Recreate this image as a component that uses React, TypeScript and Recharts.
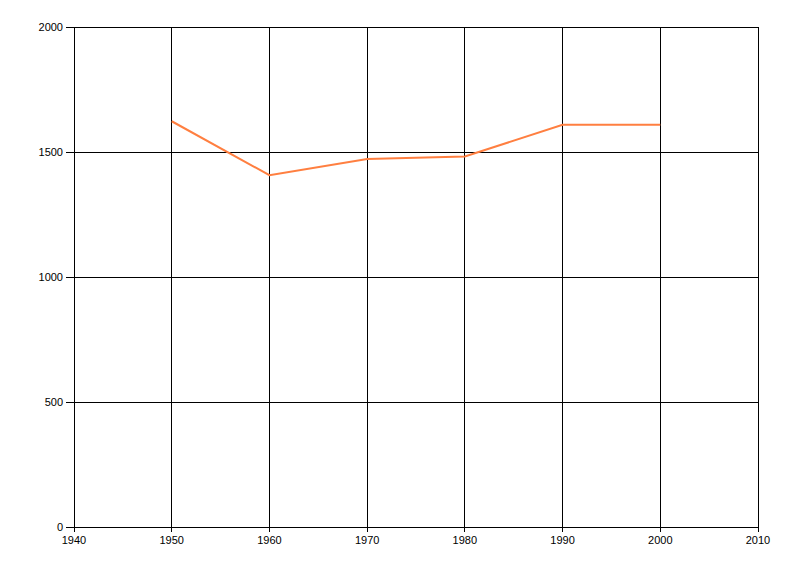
import React from "react";
import { LineChart, Line, XAxis, YAxis, CartesianGrid } from "recharts";

const years = [1950, 1960, 1970, 1980, 1990, 2000];
const values = [1623, 1407, 1472, 1482, 1609, 1609];
const xTicks = [1940, 1950, 1960, 1970, 1980, 1990, 2000, 2010];
const yTicks = [0, 500, 1000, 1500, 2000];

const data = years.map((y, i) => ({ year: y, value: values[i] }));

const tickStyle = { fontSize: 11, fill: "#000", fontFamily: "Liberation Sans, Arial, sans-serif" };

export default function App() {
  return (
    <div style={{ position: "absolute", left: 0, top: 0, width: 800, height: 576, background: "#fff" }}>
      <style>{`.recharts-cartesian-grid line, .recharts-cartesian-axis-line, .recharts-cartesian-axis-tick-line { shape-rendering: crispEdges; }`}</style>
      <LineChart width={800} height={576} data={data} margin={{ top: 27, right: 42, bottom: 19, left: 0 }}>
        <CartesianGrid stroke="#000" strokeWidth={1} />
        <XAxis
          dataKey="year"
          type="number"
          domain={[1940, 2010]}
          ticks={xTicks}
          interval={0}
          height={30}
          tick={tickStyle}
          tickSize={5}
          tickMargin={4}
          stroke="#000"
          tickLine={{ stroke: "#000" }}
          axisLine={{ stroke: "#000" }}
        />
        <YAxis
          type="number"
          domain={[0, 2000]}
          ticks={yTicks}
          interval={0}
          width={74}
          tick={tickStyle}
          tickSize={8}
          tickMargin={3}
          stroke="#000"
          tickLine={{ stroke: "#000" }}
          axisLine={{ stroke: "#000" }}
        />
        <Line
          dataKey="value"
          type="linear"
          stroke="#FF7F40"
          strokeWidth={2}
          dot={false}
          isAnimationActive={false}
        />
      </LineChart>
    </div>
  );
}
